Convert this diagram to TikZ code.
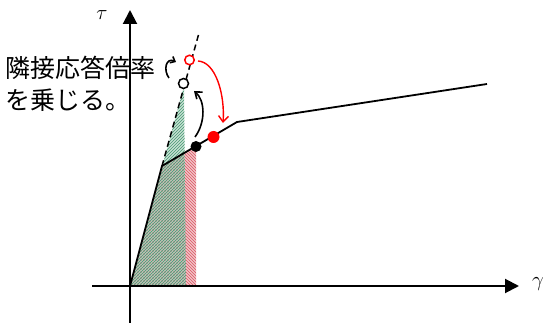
\documentclass[tikz,border=0pt]{standalone}
\usepackage{fontspec}
\newfontfamily\jp{Noto Sans CJK JP}
\usetikzlibrary{arrows.meta,patterns}
\definecolor{hgreen}{RGB}{70,150,115}
\definecolor{hred}{RGB}{220,85,100}
\definecolor{fgreen}{RGB}{160,205,180}
\definecolor{fred}{RGB}{235,170,175}
\tikzset{
  axis/.style={line width=2pt,-{Triangle[length=14pt,width=14pt]}},
  curve/.style={line width=1.8pt,line join=round},
  dashline/.style={line width=1.5pt,dash pattern=on 6pt off 4pt},
  bentarrow/.style={line width=1.6pt,-{Straight Barb[length=6pt,width=9pt,line width=1.6pt]}},
  lbl/.style={inner sep=0pt,font=\fontsize{21}{24}\selectfont},
  jptext/.style={inner sep=0pt,anchor=west,font=\jp\fontsize{25}{28}\selectfont},
  dot/.style={circle,inner sep=0pt,minimum size=#1},
}
\begin{document}
\begin{tikzpicture}[x=1pt,y=-1pt]
\useasboundingbox (0,0) rectangle (547,323);
% key points
\coordinate (O) at (130,286);
\coordinate (k1) at (162,166);
\coordinate (k2) at (237,122);
\coordinate (e) at (487,84);
\coordinate (dtop) at (199,33);
% hatched regions
\fill[fred,opacity=0.7] (O) -- (k1) -- (196,146) -- (196,286) -- cycle;
\fill[pattern=north west lines,pattern color=hred] (O) -- (k1) -- (196,146) -- (196,286) -- cycle;
\fill[fgreen,opacity=0.6] (O) -- (184,86) -- (186,286) -- cycle;
\fill[pattern=north east lines,pattern color=hgreen] (O) -- (184,86) -- (186,286) -- cycle;
% axes
\coordinate (xs) at (92,286);
\coordinate (xe) at (519,286);
\coordinate (ys) at (130,323);
\coordinate (ye) at (130,10);
\draw[axis] (xs) -- (xe);
\draw[axis] (ys) -- (ye);
\node[lbl] (tau) at (102,15) {$\tau$};
\node[lbl] (gam) at (538,284) {$\gamma$};
% curves
\draw[dashline] (k1) -- (dtop);
\draw[curve] (O) -- (k1) -- (k2) -- (e);
% points
\node[dot=11pt,fill=black] (bd) at (196,146.5) {};
\node[dot=12pt,fill=red] (rd) at (213.5,137) {};
\node[dot=10pt,draw=black,line width=1.5pt,fill=white] (hc) at (183.5,83.5) {};
\node[dot=9.5pt,draw=red,line width=1.5pt,fill=white] (rc) at (189.5,60) {};
% arrows
\coordinate (ba1) at (195,137);
\coordinate (ba2) at (194,91);
\draw[bentarrow] (ba1) .. controls (206,122) and (205,100) .. (ba2);
\coordinate (sa1) at (169,78);
\coordinate (sa2) at (176,62);
\draw[bentarrow,-{Straight Barb[length=4pt,width=7pt,line width=1.6pt]}] (sa1) .. controls (163,70) and (166,57) .. (sa2);
\coordinate (ra1) at (198,61);
\coordinate (ra2) at (223,123);
\draw[bentarrow,draw=red,line width=1.4pt,-{Straight Barb[length=6pt,width=10pt,line width=1.4pt]}] (ra1) .. controls (216,62) and (225,95) .. (ra2);
% text
\node[jptext] (t1) at (5,68) {隣接応答倍率};
\node[jptext] (t2) at (5,100) {を乗じる。};
\end{tikzpicture}
\end{document}
